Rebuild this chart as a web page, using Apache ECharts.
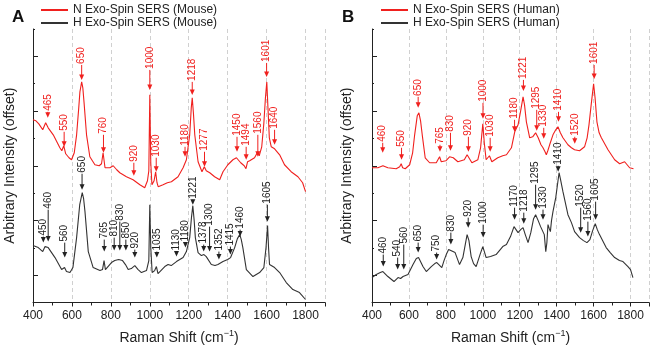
<!DOCTYPE html>
<html>
<head>
<meta charset="utf-8">
<script src="https://cdn.jsdelivr.net/npm/echarts@6/dist/echarts.min.js"></script>
<style>
html, body { margin: 0; padding: 0; background: #fff; }
#chart { width: 650px; height: 350px; }
</style>
</head>
<body>
<div id="chart"></div>
<script>
// spectra: [Raman shift, intensity (arbitrary units, offset)]
var mouseN = [[400,183],[415,182],[430,179],[450,173],[465,180],[478,175],[504,168],[538,155],[548,152],[558,157],[568,149],[585,145],[598,143],[612,150],[624,168],[635,195],[641,211],[650,221],[656,215],[662,201],[675,168],[692,146],[718,138],[740,137],[752,139],[760,150],[764,148],[770,135],[795,135],[812,137],[830,133],[846,130],[880,126],[914,123],[949,118],[974,115],[988,122],[995,132],[1000,208],[1005,140],[1011,118],[1022,122],[1030,131],[1037,120],[1043,116],[1068,118],[1090,120],[1111,121],[1145,126],[1171,135],[1188,143],[1205,168],[1213,195],[1218,205],[1224,190],[1231,168],[1248,141],[1268,131],[1280,136],[1290,132],[1308,130],[1333,126],[1359,123],[1376,131],[1401,138],[1427,143],[1445,145],[1467,140],[1485,137],[1494,134],[1502,141],[1513,142],[1538,145],[1555,151],[1562,147],[1575,156],[1586,180],[1594,205],[1601,221],[1607,195],[1614,165],[1624,156],[1641,154],[1667,148],[1692,138],[1726,131],[1761,126],[1785,120],[1800,111]];
var mouseH = [[400,57],[427,55],[450,51],[462,56],[478,55],[513,45],[547,33],[553,31],[562,35],[572,31],[590,30],[605,35],[624,65],[640,98],[653,110],[660,104],[667,91],[684,51],[709,35],[744,32],[757,33],[765,42],[772,33],[781,31],[803,40],[820,42],[840,43],[860,42],[875,38],[889,33],[905,34],[923,37],[940,33],[957,30],[983,32],[995,42],[1000,98],[1005,55],[1012,30],[1025,32],[1034,36],[1042,29],[1051,30],[1077,36],[1094,38],[1110,37],[1137,41],[1171,45],[1188,51],[1205,65],[1214,85],[1221,97],[1228,82],[1234,65],[1248,50],[1265,47],[1278,48],[1290,46],[1300,48],[1316,38],[1335,37],[1350,38],[1376,41],[1400,43],[1415,45],[1436,55],[1450,64],[1462,68],[1470,63],[1478,55],[1496,33],[1530,26],[1564,30],[1586,35],[1597,55],[1605,77],[1610,55],[1615,38],[1641,35],[1667,30],[1701,20],[1735,13],[1769,10],[1800,3]];
var humanN = [[400,135],[432,135],[459,137],[486,135],[531,134],[550,136],[558,139],[566,135],[580,134],[604,138],[620,150],[631,168],[645,187],[654,190],[663,182],[672,168],[688,145],[712,140],[748,140],[766,146],[775,141],[784,140],[800,142],[820,146],[840,145],[865,141],[900,143],[915,148],[925,146],[941,140],[973,143],[988,155],[1000,179],[1008,160],[1018,143],[1026,145],[1036,147],[1049,141],[1081,145],[1108,147],[1128,148],[1155,155],[1173,171],[1191,178],[1205,192],[1218,206],[1226,198],[1236,181],[1254,165],[1270,166],[1286,170],[1300,165],[1315,158],[1326,155],[1337,151],[1344,148],[1352,152],[1362,158],[1380,168],[1395,173],[1407,176],[1420,170],[1434,165],[1461,158],[1480,155],[1497,153],[1524,152],[1551,156],[1565,165],[1575,178],[1588,200],[1600,219],[1608,205],[1618,181],[1630,170],[1642,165],[1678,153],[1714,143],[1741,139],[1768,141],[1795,135],[1816,134]];
var humanH = [[400,25],[423,28],[445,30],[459,31],[486,26],[519,21],[541,25],[555,24],[568,26],[595,28],[622,38],[640,44],[652,45],[676,36],[694,31],[721,36],[740,39],[751,40],[778,35],[790,42],[802,48],[815,53],[825,54],[850,50],[874,38],[892,45],[905,58],[915,68],[925,62],[937,46],[950,39],[964,36],[985,48],[1000,56],[1010,50],[1018,45],[1042,46],[1072,48],[1090,52],[1108,56],[1128,58],[1150,66],[1169,76],[1180,73],[1191,70],[1205,73],[1218,75],[1230,68],[1245,60],[1260,70],[1275,84],[1286,88],[1300,82],[1313,76],[1323,78],[1333,68],[1341,51],[1347,60],[1353,78],[1360,74],[1366,71],[1372,82],[1380,91],[1395,105],[1413,130],[1420,124],[1434,111],[1461,88],[1480,80],[1497,71],[1524,65],[1545,62],[1564,60],[1580,63],[1595,72],[1609,79],[1620,73],[1632,68],[1668,55],[1690,50],[1714,45],[1740,42],[1759,41],[1786,36],[1800,33],[1813,25]];

// peak tags: [shift, arrow tip, label start, text]
var mouseNTags = [[476,185,191,'465'],[560,156,171,'550'],[650,223,238,'650'],[762,150,168,'760'],[918,127,140,'920'],[1000,213,233,'1000'],[1033,131,145,'1030'],[1181,146,156,'1180'],[1218,208,221,'1218'],[1281,136,151,'1277'],[1448,151,166,'1450'],[1495,143,156,'1494'],[1555,146,168,'1560'],[1600,226,240,'1601'],[1641,158,173,'1640']];
var mouseHTags = [[453,60,66,'450'],[478,61,93,'460'],[563,45,60,'560'],[652,113,129,'650'],[766,51,63,'765'],[817,52,65,'810'],[846,52,81,'830'],[877,52,63,'850'],[923,45,53,'920'],[1036,45,51,'1035'],[1137,46,51,'1130'],[1183,55,60,'1180'],[1221,98,103,'1221'],[1277,51,58,'1378'],[1307,51,76,'1300'],[1355,43,51,'1352'],[1414,48,56,'1415'],[1464,66,73,'1460'],[1604,81,98,'1605']];
var humanNTags = [[458,150,160,'460'],[560,143,155,'550'],[650,195,206,'650'],[768,151,158,'765'],[825,152,170,'830'],[922,151,166,'920'],[1001,184,200,'1000'],[1040,151,165,'1030'],[1172,171,183,'1180'],[1220,212,223,'1221'],[1292,172,193,'1295'],[1330,164,175,'1330'],[1410,181,191,'1410'],[1498,159,166,'1520'],[1603,224,238,'1601']];
var humanHTags = [[461,36,48,'460'],[539,33,45,'540'],[572,33,58,'560'],[650,50,60,'650'],[750,43,50,'750'],[827,58,70,'830'],[921,75,85,'920'],[1002,65,78,'1000'],[1172,83,95,'1170'],[1222,79,90,'1218'],[1286,93,118,'1295'],[1326,83,93,'1330'],[1408,131,137,'1410'],[1530,70,95,'1520'],[1569,66,81,'1560'],[1611,83,101,'1605']];

var RED = '#f0201e';
var DARK = '#333333';
var FONT = 'Liberation Sans';

var chart = echarts.init(document.getElementById('chart'));

function xAx(idx) {
  return {
    type: 'value', gridIndex: idx, min: 400, max: 1900, interval: 200,
    name: '{a|Raman Shift (cm}{s|−1}{a|)}', nameLocation: 'middle', nameGap: 27,
    nameTextStyle: {
      rich: {
        a: { fontSize: 14, color: '#222', fontFamily: FONT },
        s: { fontSize: 9, color: '#222', fontFamily: FONT, padding: [0, 0, 8, 0] }
      }
    },
    axisLine: { lineStyle: { color: '#222', width: 1 } },
    axisTick: { length: 4, lineStyle: { color: '#222' } },
    minorTick: { show: true, splitNumber: 2, length: 3, lineStyle: { color: '#222' } },
    axisLabel: { fontSize: 12, color: '#222', margin: 7, fontFamily: FONT,
      formatter: function (v) { return String(v); } },
    splitLine: { show: true, lineStyle: { color: '#c4c4c4', type: [4, 3], width: 0.8 } }
  };
}

function yAx(idx, gap) {
  return {
    type: 'value', gridIndex: idx, min: 0, max: 274, interval: 54.8,
    name: 'Arbitrary Intensity (offset)', nameLocation: 'middle', nameGap: gap,
    nameTextStyle: { fontSize: 14, color: '#222', fontFamily: FONT },
    axisLine: { show: true, lineStyle: { color: '#222', width: 1 } },
    axisTick: { show: true, inside: true, length: 2, lineStyle: { color: '#222' } },
    minorTick: { show: true, splitNumber: 2, length: 5, lineStyle: { color: '#222' } },
    axisLabel: { show: false },
    splitLine: { show: false }
  };
}

function spectrum(name, data, color, idx) {
  return {
    name: name, type: 'line', data: data, xAxisIndex: idx, yAxisIndex: idx,
    showSymbol: false, symbol: 'none', silent: true, animation: false,
    lineStyle: { color: color, width: 1.1 }, itemStyle: { color: color }
  };
}

function tags(list, color, idx) {
  return {
    type: 'custom', xAxisIndex: idx, yAxisIndex: idx, silent: true, animation: false, z: 5,
    data: list.map(function (t) { return [t[0], t[1], t[2]]; }),
    encode: { x: 0, y: [1, 2] },
    renderItem: function (params, api) {
      var tip = api.coord([api.value(0), api.value(1)]);
      var top = api.coord([api.value(0), api.value(2)]);
      var txt = list[params.dataIndex][3];
      return {
        type: 'group',
        children: [
          { type: 'line', shape: { x1: tip[0], y1: tip[1] - 4, x2: top[0], y2: top[1] },
            style: { stroke: color, lineWidth: 1 } },
          { type: 'polygon', shape: { points: [[tip[0], tip[1]], [tip[0] - 2.5, tip[1] - 5.5], [tip[0] + 2.5, tip[1] - 5.5]] },
            style: { fill: color } },
          { type: 'text', x: top[0], y: top[1] - 1, rotation: Math.PI / 2,
            style: { text: txt, fill: color, font: '10px "' + FONT + '"', align: 'left', verticalAlign: 'middle' } }
        ]
      };
    }
  };
}

chart.setOption({
  animation: false,
  textStyle: { fontFamily: FONT },
  grid: [
    { left: 33, right: 325, top: 29, bottom: 47 },
    { left: 372, right: 1, top: 29, bottom: 47 }
  ],
  legend: [
    { data: ['N Exo-Spin SERS (Mouse)', 'H Exo-Spin SERS (Mouse)'], orient: 'vertical', left: 36, top: -1,
      itemWidth: 27, itemHeight: 2, itemGap: 1, icon: 'rect', selectedMode: false,
      textStyle: { fontSize: 12, color: '#222', fontFamily: FONT } },
    { data: ['N Exo-Spin SERS (Human)', 'H Exo-Spin SERS (Human)'], orient: 'vertical', left: 376, top: -1,
      itemWidth: 27, itemHeight: 2, itemGap: 1, icon: 'rect', selectedMode: false,
      textStyle: { fontSize: 12, color: '#222', fontFamily: FONT } }
  ],
  xAxis: [xAx(0), xAx(1)],
  yAxis: [yAx(0, 16), yAx(1, 18)],
  graphic: [
    { type: 'text', left: 12, top: 9, style: { text: 'A', font: 'bold 17px "' + FONT + '"', fill: '#111' } },
    { type: 'text', left: 342, top: 9, style: { text: 'B', font: 'bold 17px "' + FONT + '"', fill: '#111' } }
  ],
  series: [
    spectrum('N Exo-Spin SERS (Mouse)', mouseN, RED, 0),
    spectrum('H Exo-Spin SERS (Mouse)', mouseH, DARK, 0),
    spectrum('N Exo-Spin SERS (Human)', humanN, RED, 1),
    spectrum('H Exo-Spin SERS (Human)', humanH, DARK, 1),
    tags(mouseNTags, RED, 0),
    tags(mouseHTags, '#222', 0),
    tags(humanNTags, RED, 1),
    tags(humanHTags, '#222', 1)
  ]
});
</script>
</body>
</html>
